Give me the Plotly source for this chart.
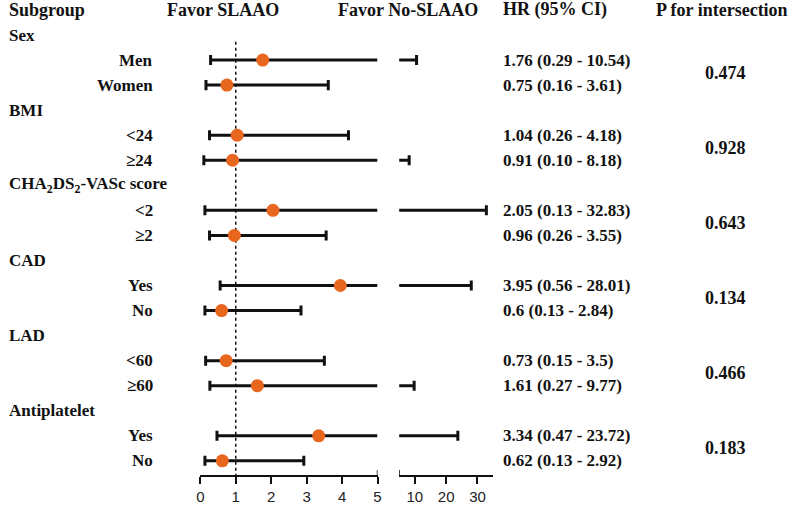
import plotly.graph_objects as go

# ---- data ----
groups = ["Sex", "BMI", "CHA<sub>2</sub>DS<sub>2</sub>-VASc score", "CAD", "LAD", "Antiplatelet"]
subgroups = [["Men", "Women"], ["&lt;24", "≥24"], ["&lt;2", "≥2"], ["Yes", "No"], ["&lt;60", "≥60"], ["Yes", "No"]]
hr = [1.76, 0.75, 1.04, 0.91, 2.05, 0.96, 3.95, 0.6, 0.73, 1.61, 3.34, 0.62]
lo = [0.29, 0.16, 0.26, 0.10, 0.13, 0.26, 0.56, 0.13, 0.15, 0.27, 0.47, 0.13]
hi = [10.54, 3.61, 4.18, 8.18, 32.83, 3.55, 28.01, 2.84, 3.5, 9.77, 23.72, 2.92]
hr_text = ["1.76 (0.29 - 10.54)", "0.75 (0.16 - 3.61)", "1.04 (0.26 - 4.18)", "0.91 (0.10 - 8.18)",
           "2.05 (0.13 - 32.83)", "0.96 (0.26 - 3.55)", "3.95 (0.56 - 28.01)", "0.6 (0.13 - 2.84)",
           "0.73 (0.15 - 3.5)", "1.61 (0.27 - 9.77)", "3.34 (0.47 - 23.72)", "0.62 (0.13 - 2.92)"]
p_vals = ["0.474", "0.928", "0.643", "0.134", "0.466", "0.183"]
left_ticks = [0, 1, 2, 3, 4, 5]
right_ticks = [10, 20, 30]

BREAK = 5
W, H = 800, 505
ROW_PX = 25.1
ROW0_PX = 10
PLOT_BOTTOM_PX = 476

def px(x):
    return x / W

# row positions
group_rows = []
sub_rows = []
r = 1
for g, subs in zip(groups, subgroups):
    group_rows.append(r)
    r += 1
    for s in subs:
        sub_rows.append(r)
        r += 1

sub_labels = [s for subs in subgroups for s in subs]

# build whisker lines
cap = 0.2
lx, ly, rx, ry = [], [], [], []
for y, l, h in zip(sub_rows, lo, hi):
    lx += [l, min(h, BREAK), None, l, l, None]
    ly += [y, y, None, y - cap, y + cap, None]
    if h <= BREAK:
        lx += [h, h, None]
        ly += [y - cap, y + cap, None]
    else:
        rx += [BREAK - 0.8, h, None, h, h, None]
        ry += [y, y, None, y - cap, y + cap, None]

fig = go.Figure()
fig.add_trace(go.Scatter(x=lx, y=ly, mode="lines", line=dict(color="#111111", width=3),
                         xaxis="x", yaxis="y", hoverinfo="skip", showlegend=False, cliponaxis=False))
fig.add_trace(go.Scatter(x=rx, y=ry, mode="lines", line=dict(color="#111111", width=3),
                         xaxis="x2", yaxis="y", hoverinfo="skip", showlegend=False, cliponaxis=False))
fig.add_trace(go.Scatter(x=[1, 1], y=[1.27, 18.6], mode="lines",
                         line=dict(color="#111111", width=1.5, dash="3px,3px"),
                         xaxis="x", yaxis="y", hoverinfo="skip", showlegend=False))
fig.add_trace(go.Scatter(x=hr, y=sub_rows, mode="markers",
                         marker=dict(color="#E9661F", size=13, line=dict(width=0)),
                         xaxis="x", yaxis="y", showlegend=False))

y_bottom = (PLOT_BOTTOM_PX - ROW0_PX) / ROW_PX
y_top = -ROW0_PX / ROW_PX

axis_common = dict(showline=True, linecolor="#111111", linewidth=1.5, ticks="outside",
                   ticklen=7, tickwidth=1.5, tickcolor="#111111", showgrid=False, zeroline=False,
                   tickfont=dict(family="Liberation Sans", size=15, color="#222222"), anchor="y")

fig.update_layout(
    width=W, height=H,
    margin=dict(l=0, r=0, t=0, b=H - PLOT_BOTTOM_PX),
    plot_bgcolor="white", paper_bgcolor="white",
    xaxis=dict(domain=[px(198.3), px(377.3)], range=[0, 5], tickvals=left_ticks, **axis_common),
    xaxis2=dict(domain=[px(399.2), px(494.1)], range=[5, 35], tickvals=right_ticks, **axis_common),
    yaxis=dict(range=[y_bottom, y_top], visible=False, showgrid=False, zeroline=False),
)

# break markers
brk_top = y_bottom - 5 / ROW_PX
brk_bot = y_bottom + 7 / ROW_PX
fig.add_shape(type="line", xref="x", yref="y", x0=BREAK, x1=BREAK, y0=y_bottom, y1=brk_top,
              line=dict(color="#111111", width=1.5))
fig.add_shape(type="line", xref="x2", yref="y", x0=BREAK, x1=BREAK, y0=brk_bot, y1=brk_top,
              line=dict(color="#111111", width=1.5))

serif = dict(family="Liberation Serif", size=17, color="#111111", weight="bold")
head = dict(family="Liberation Serif", size=18, color="#111111", weight="bold")

def ann(text, x, y, anchor, font):
    fig.add_annotation(text=text, x=px(x), y=y, xref="paper", yref="y", xanchor=anchor,
                       yanchor="middle", showarrow=False, font=font)

ann("Subgroup", 3, 0, "left", head)
ann("Favor SLAAO", 221, 0, "center", head)
ann("Favor No-SLAAO", 408, 0, "center", head)
ann("HR (95% CI)", 502, 0, "left", head)
ann("P for intersection", 657, 0, "left", head)

for g, yr in zip(groups, group_rows):
    ann(g, 3, yr, "left", serif)
for s, yr, t in zip(sub_labels, sub_rows, hr_text):
    ann(s, 153, yr, "right", serif)
    ann(t, 502, yr, "left", serif)
for i, pv in enumerate(p_vals):
    yr = (sub_rows[2 * i] + sub_rows[2 * i + 1]) / 2
    ann(pv, 729, yr, "center", head)

fig.write_html("out.html", config={"displayModeBar": False},
               post_script="document.body.style.margin='0';")
